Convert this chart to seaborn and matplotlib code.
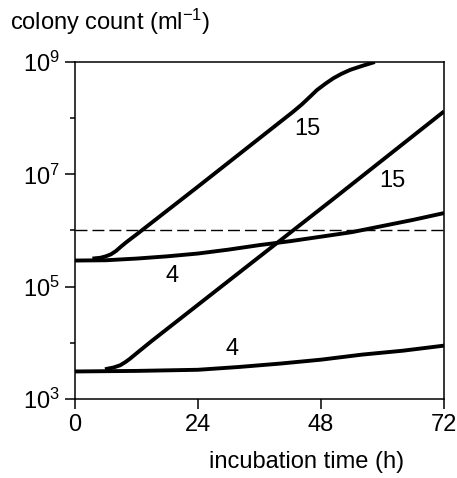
import numpy as np
import pandas as pd
import seaborn as sns
import matplotlib.pyplot as plt

# values (hours, log10 colony count per ml)
hi15_t = [3.4, 5.0, 6.0, 7.0, 8.0, 9.0, 10.0, 11.0, 12.3, 24.4, 42.5, 44.2, 45.6, 47.2, 48.8, 50.4, 52.0, 53.7, 56.0, 58.5]
hi15_log = [5.50, 5.515, 5.54, 5.575, 5.635, 5.715, 5.79, 5.86, 5.95, 6.81, 8.11, 8.24, 8.36, 8.50, 8.61, 8.71, 8.79, 8.86, 8.93, 9.0]

lo15_t = [5.85, 7.5, 8.8, 9.8, 10.7, 11.7, 12.7, 15.0, 30.2, 50.1, 72.0]
lo15_log = [3.53, 3.56, 3.60, 3.655, 3.715, 3.79, 3.865, 4.035, 5.12, 6.54, 8.12]

hi4_t = [0, 6, 12, 18, 24, 30, 36, 42, 48, 54, 60, 66, 72]
hi4_log = [5.465, 5.47, 5.50, 5.54, 5.59, 5.66, 5.74, 5.81, 5.89, 5.97, 6.08, 6.19, 6.31]

lo4_t = [0, 12, 24, 32, 40, 48, 56, 64, 72]
lo4_log = [3.49, 3.50, 3.52, 3.57, 3.63, 3.70, 3.79, 3.86, 3.95]

threshold = 1e6
curve_labels = ['15', '15', '4', '4']
label_t = [45.4, 62.0, 18.9, 30.6]
label_log = [7.70, 6.78, 5.09, 3.79]

sns.set_style('ticks')
plt.rcParams['font.family'] = ['Liberation Sans', 'DejaVu Sans']
plt.rcParams['mathtext.fontset'] = 'custom'
plt.rcParams['mathtext.rm'] = 'Liberation Sans'
plt.rcParams['mathtext.it'] = 'Liberation Sans'
plt.rcParams['mathtext.default'] = 'regular'
plt.rcParams['text.color'] = 'black'
plt.rcParams['xtick.color'] = 'black'
plt.rcParams['ytick.color'] = 'black'
plt.rcParams['xtick.labelcolor'] = 'black'
plt.rcParams['ytick.labelcolor'] = 'black'

fs = 17
fig = plt.figure(figsize=(4.57, 4.78), dpi=100)
ax = fig.add_axes([0.1641, 0.1653, 0.8075, 0.705])

for t, lg in [(hi15_t, hi15_log), (lo15_t, lo15_log), (hi4_t, hi4_log), (lo4_t, lo4_log)]:
    df = pd.DataFrame({'t': t, 'count': 10 ** np.array(lg)})
    sns.lineplot(data=df, x='t', y='count', ax=ax, color='black', lw=2.8,
                 estimator=None, sort=False, solid_capstyle='butt')

ax.axhline(threshold, color='black', lw=1.0, dashes=(8.6, 3.6))

for s, t, lg in zip(curve_labels, label_t, label_log):
    ax.text(t, 10 ** lg, s, fontsize=fs, ha='center', va='baseline')

ax.set_yscale('log')
ax.set_xlim(0, 72)
ax.set_ylim(1e3, 1e9)
ax.set_xticks([0, 24, 48, 72])
ax.set_xticklabels(['0', '24', '48', '72'])
ax.set_yticks([1e3, 1e5, 1e7, 1e9])
ax.set_yticklabels([r'$10^{3}$', r'$10^{5}$', r'$10^{7}$', r'$10^{9}$'])
ax.set_yticks([1e4, 1e6, 1e8], minor=True)
ax.set_yticklabels([], minor=True)
ax.tick_params(axis='both', which='major', labelsize=fs, length=7, width=1.1,
               direction='out', pad=4, color='black')
ax.tick_params(axis='y', which='minor', length=3.6, width=1.1, direction='out')
ax.tick_params(axis='x', which='minor', bottom=False)
ax.set_xlabel('')
ax.set_ylabel('')
for sp in ax.spines.values():
    sp.set_visible(True)
    sp.set_linewidth(1.1)
    sp.set_color('black')

fig.text(10 / 457, 1 - 30 / 478, r'colony count (ml$^{-1}$)', fontsize=fs,
         ha='left', va='baseline')
fig.text(307 / 457, 1 - 468 / 478, 'incubation time (h)', fontsize=fs,
         ha='center', va='baseline')

fig.savefig('out.png', dpi=100)
